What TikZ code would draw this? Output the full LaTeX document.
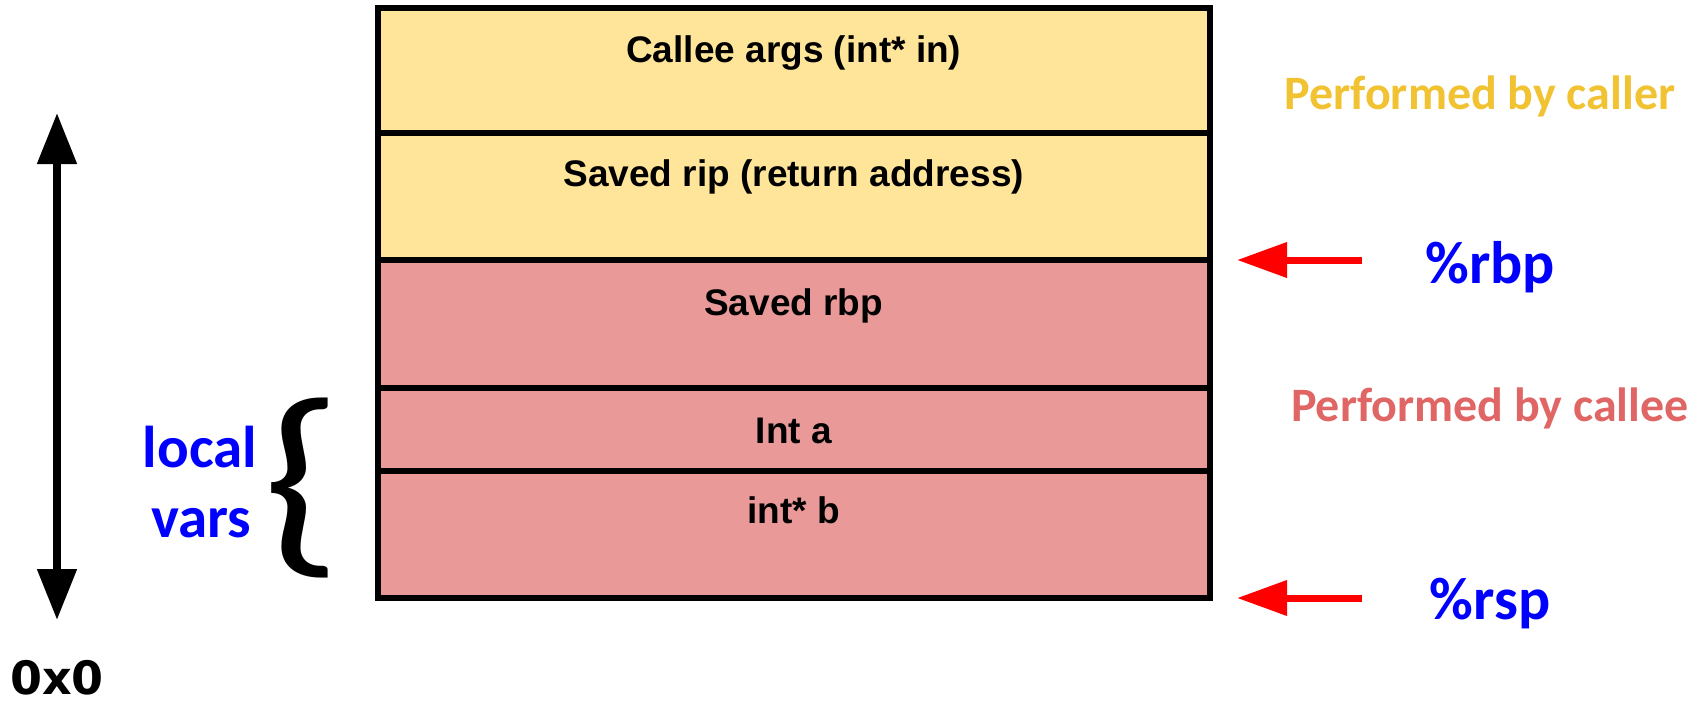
\documentclass[tikz,border=0pt]{standalone}
\usepackage{fontspec}
\setmainfont{Liberation Sans}
\newfontfamily\carlito{Carlito}
\newfontfamily\dejavu{DejaVu Sans}
\usetikzlibrary{arrows.meta}
\definecolor{cellyellow}{HTML}{FFE599}
\definecolor{cellpink}{HTML}{EA9999}
\definecolor{callercol}{HTML}{F1C232}
\definecolor{calleecol}{HTML}{E06666}
\definecolor{regblue}{HTML}{0000FF}
\definecolor{ptrred}{HTML}{FF0000}
\tikzset{
  cell/.style={draw=black, line width=3pt},
  celltext/.style={anchor=base, inner sep=0pt, font=\fontsize{18.5pt}{20pt}\selectfont\bfseries},
  regtext/.style={anchor=base, inner sep=0pt, text=regblue, font=\carlito\fontsize{30pt}{32pt}\selectfont\bfseries},
  bytext/.style={anchor=base, inner sep=0pt, font=\carlito\fontsize{24pt}{26pt}\selectfont\bfseries},
  lvtext/.style={anchor=base, inner sep=0pt, text=regblue, font=\carlito\fontsize{29.5pt}{31pt}\selectfont\bfseries},
  ptr/.style={draw=ptrred, line width=3.5pt, -{Triangle[length=25pt, width=17pt]}},
  addr/.style={draw=black, line width=4pt, {Triangle[length=25.5pt, width=19pt]}-{Triangle[length=25.5pt, width=19pt]}}
}
\begin{document}
\begin{tikzpicture}[x=0.5pt, y=-0.5pt]
\useasboundingbox (0,0) rectangle (1706,703);
% stack cells
\draw[cell, fill=cellyellow] (377.5,8) rectangle (1210,133);
\draw[cell, fill=cellyellow] (377.5,133) rectangle (1210,260);
\draw[cell, fill=cellpink] (377.5,260) rectangle (1210,388);
\draw[cell, fill=cellpink] (377.5,388) rectangle (1210,471);
\draw[cell, fill=cellpink] (377.5,471) rectangle (1210,598);
\node[celltext] (args) at (793.75,62) {Callee args (int* in)};
\node[celltext] (rip) at (793.75,186) {Saved rip (return address)};
\node[celltext] (srbp) at (793.75,315) {Saved rbp};
\node[celltext] (inta) at (793.75,443) {Int a};
\node[celltext] (intb) at (793.75,523) {int* b};
% right side labels
\node[bytext, text=callercol] (caller) at (1480,109) {Performed by caller};
\node[bytext, text=calleecol] (callee) at (1490,421) {Performed by callee};
\node[regtext] (rbp) at (1490,283) {\%rbp};
\node[regtext] (rsp) at (1490,619) {\%rsp};
\coordinate (rbptail) at (1362,260);
\coordinate (rbptip) at (1237,260);
\coordinate (rsptail) at (1362,598);
\coordinate (rsptip) at (1237,598);
\draw[ptr] (rbptail) -- (rbptip);
\draw[ptr] (rsptail) -- (rsptip);
% address arrow
\coordinate (addrtop) at (57,113);
\coordinate (addrbot) at (57,620);
\draw[addr] (addrbot) -- (addrtop);
\node[anchor=base, inner sep=0pt, font=\dejavu\fontsize{23pt}{24pt}\selectfont\bfseries] (zero) at (57,694) {0x0};
% local vars
\node[lvtext] (local) at (200,467) {local};
\node[lvtext] (vars) at (201,537) {vars};
\node[inner sep=0pt] (brace) at (302,488) {\resizebox*{40pt}{90pt}{\carlito\{}};
\end{tikzpicture}
\end{document}
